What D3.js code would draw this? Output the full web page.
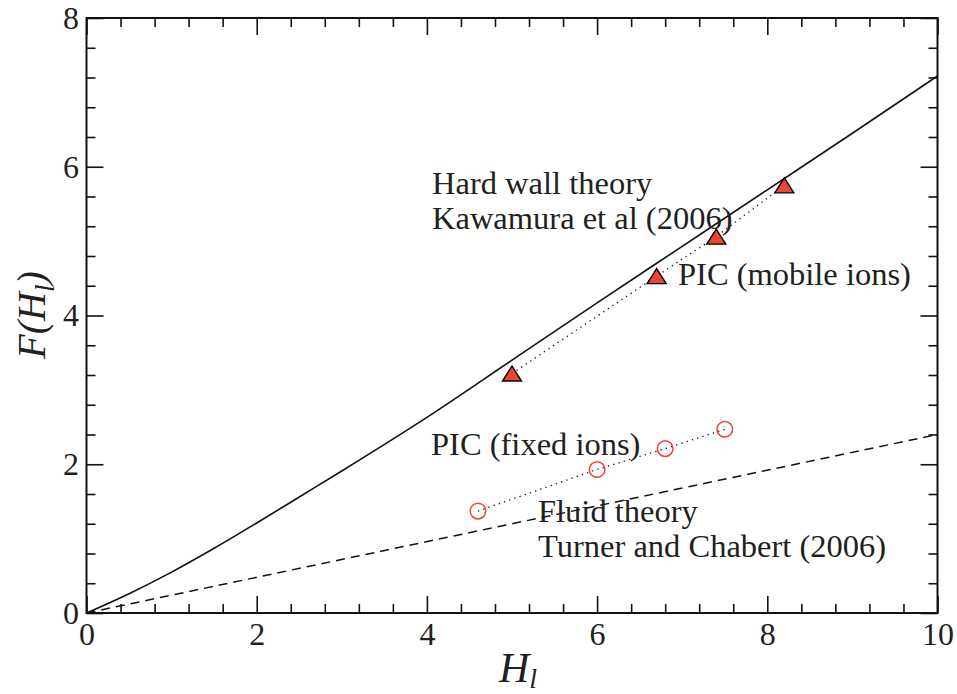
<!DOCTYPE html>
<html>
<head>
<meta charset="utf-8">
<script src="https://cdn.jsdelivr.net/npm/d3@7"></script>
<style>
  body { margin: 0; background: #fff; }
  svg { display: block; }
  text { font-family: "Liberation Serif", "Times New Roman", Times, serif; fill: #231f20; }
</style>
</head>
<body>
<svg id="chart" width="957" height="694"></svg>
<script>
// ---- data ----
const xMajorTicks = [0, 2, 4, 6, 8, 10];
const yMajorTicks = [0, 2, 4, 6, 8];
const hardWallX = [0, 0.5, 1, 1.5, 2, 2.5, 3, 4, 5, 6, 7, 8, 9, 10];
const hardWallY = [0, 0.26, 0.55, 0.87, 1.21, 1.56, 1.91, 2.63, 3.40, 4.17, 4.93, 5.69, 6.45, 7.22];
const fluidX = [0, 10];
const fluidY = [0, 2.4];
const mobileX = [5.0, 6.7, 7.4, 8.2];
const mobileY = [3.22, 4.53, 5.06, 5.75];
const fixedX = [4.6, 6.0, 6.8, 7.5];
const fixedY = [1.37, 1.93, 2.21, 2.47];

// ---- layout ----
const FONT = '"Liberation Serif", "Times New Roman", Times, serif';
const svg = d3.select("#chart");
const L = 86.5, R = 937.5, T = 18, B = 613;
const x = d3.scaleLinear().domain([0, 10]).range([L, R]);
const y = d3.scaleLinear().domain([0, 8]).range([B, T]);
const xMinor = d3.range(0, 10.001, 0.4).map(v => +v.toFixed(2)).filter(v => !xMajorTicks.includes(v));
const yMinor = d3.range(0, 8.001, 0.4).map(v => +v.toFixed(2)).filter(v => !yMajorTicks.includes(v));

const red = "#ee4433";
const ink = "#111";

const zip = (a, b) => a.map((v, i) => [v, b[i]]);
const straight = d3.line().x(d => x(d[0])).y(d => y(d[1]));
const smooth = d3.line().x(d => x(d[0])).y(d => y(d[1])).curve(d3.curveMonotoneX);

svg.append("path").attr("d", smooth(zip(hardWallX, hardWallY)))
  .attr("fill", "none").attr("stroke", ink).attr("stroke-width", 1.6);

svg.append("path").attr("d", straight(zip(fluidX, fluidY)))
  .attr("fill", "none").attr("stroke", ink).attr("stroke-width", 1.5)
  .attr("stroke-dasharray", "9,6");

svg.append("path").attr("d", straight(zip(mobileX, mobileY)))
  .attr("fill", "none").attr("stroke", ink).attr("stroke-width", 1.3)
  .attr("stroke-dasharray", "1.3,4.2");
svg.append("path").attr("d", straight(zip(fixedX, fixedY)))
  .attr("fill", "none").attr("stroke", ink).attr("stroke-width", 1.3)
  .attr("stroke-dasharray", "1.3,4.2");

// markers
const tri = "M0,-7.5L9.5,7.5L-9.5,7.5Z";
svg.selectAll("path.tri").data(zip(mobileX, mobileY)).enter().append("path")
  .attr("class", "tri")
  .attr("d", tri)
  .attr("transform", d => `translate(${x(d[0])},${y(d[1])})`)
  .attr("fill", red).attr("stroke", "#000").attr("stroke-width", 1.4);

svg.selectAll("circle.fix").data(zip(fixedX, fixedY)).enter().append("circle")
  .attr("class", "fix")
  .attr("cx", d => x(d[0])).attr("cy", d => y(d[1])).attr("r", 7.8)
  .attr("fill", "none").attr("stroke", red).attr("stroke-width", 1.5);

// axes (ticks inward on all four sides)
function styleAxis(g) {
  g.attr("font-family", FONT).attr("font-size", 32);
  g.selectAll(".domain").remove();
  g.selectAll(".tick line").attr("stroke", ink).attr("stroke-width", 1.6);
  g.selectAll(".tick text").attr("fill", "#231f20")
    .style("font-size", "32px").style("font-family", FONT);
}
svg.append("g").attr("transform", `translate(0,${B})`)
  .call(d3.axisBottom(x).tickValues(xMajorTicks).tickSize(-17).tickPadding(9).tickFormat(d3.format("d")))
  .call(styleAxis);
svg.append("g").attr("transform", `translate(0,${B})`)
  .call(d3.axisBottom(x).tickValues(xMinor).tickSize(-9).tickFormat(""))
  .call(styleAxis);
svg.append("g").attr("transform", `translate(0,${T})`)
  .call(d3.axisTop(x).tickValues(xMajorTicks).tickSize(-17).tickFormat(""))
  .call(styleAxis);
svg.append("g").attr("transform", `translate(0,${T})`)
  .call(d3.axisTop(x).tickValues(xMinor).tickSize(-9).tickFormat(""))
  .call(styleAxis);
svg.append("g").attr("transform", `translate(${L},0)`)
  .call(d3.axisLeft(y).tickValues(yMajorTicks).tickSize(-17).tickPadding(7.5).tickFormat(d3.format("d")))
  .call(styleAxis);
svg.append("g").attr("transform", `translate(${L},0)`)
  .call(d3.axisLeft(y).tickValues(yMinor).tickSize(-9).tickFormat(""))
  .call(styleAxis);
svg.append("g").attr("transform", `translate(${R},0)`)
  .call(d3.axisRight(y).tickValues(yMajorTicks).tickSize(-17).tickFormat(""))
  .call(styleAxis);
svg.append("g").attr("transform", `translate(${R},0)`)
  .call(d3.axisRight(y).tickValues(yMinor).tickSize(-9).tickFormat(""))
  .call(styleAxis);

svg.append("rect").attr("x", L).attr("y", T).attr("width", R - L).attr("height", B - T)
  .attr("fill", "none").attr("stroke", ink).attr("stroke-width", 2);

// annotations
const ann = [
  { t: "Hard wall theory", px: 432, py: 194 },
  { t: "Kawamura et al (2006)", px: 432, py: 229 },
  { t: "PIC (mobile ions)", px: 678, py: 285 },
  { t: "PIC (fixed ions)", px: 431, py: 455 },
  { t: "Fluid theory", px: 538, py: 522 },
  { t: "Turner and Chabert (2006)", px: 538, py: 557 }
];
svg.selectAll("text.ann").data(ann).enter().append("text")
  .attr("class", "ann")
  .attr("x", d => d.px).attr("y", d => d.py)
  .style("font-size", "32.5px")
  .text(d => d.t);

// axis titles
const xt = svg.append("text").attr("x", 518).attr("y", 682)
  .attr("text-anchor", "middle").style("font-size", "42px").style("font-style", "italic");
xt.append("tspan").text("H");
xt.append("tspan").attr("dy", 6).style("font-size", "28px").text("l");

const yt = svg.append("text").attr("transform", "translate(45,315) rotate(-90)")
  .attr("text-anchor", "middle").style("font-size", "40px").style("font-style", "italic");
yt.append("tspan").text("F(H");
yt.append("tspan").attr("dy", 9).style("font-size", "27px").text("l");
yt.append("tspan").attr("dy", -9).text(")");
</script>
</body>
</html>
